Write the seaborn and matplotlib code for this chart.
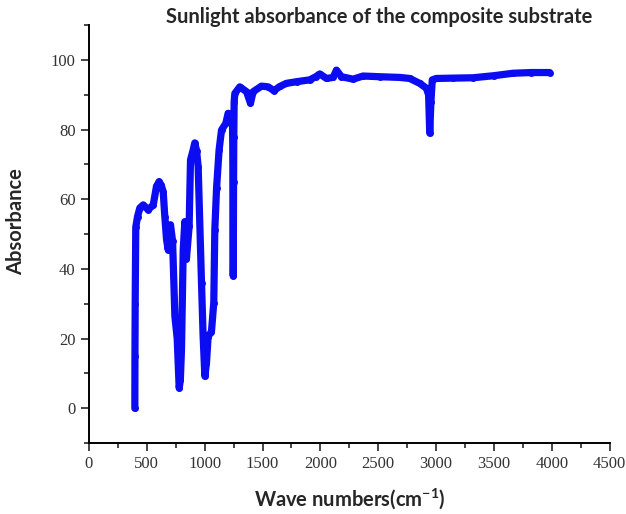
import numpy as np
import pandas as pd
import matplotlib.pyplot as plt
import seaborn as sns
from matplotlib.ticker import MultipleLocator

# wave numbers (cm-1) and absorbance
wave = [397, 398, 400, 405, 420, 440, 469, 512, 556, 584, 607, 625, 642, 656, 671, 685,
        705, 723, 743, 763, 780, 790, 800, 815, 829, 843, 866, 878, 901, 915, 930, 944,
        973, 987, 1002, 1016, 1030, 1059, 1079, 1088, 1103, 1125, 1146, 1183, 1203, 1224,
        1240, 1243, 1244, 1245, 1246, 1247, 1247, 1248, 1249, 1250, 1252, 1255, 1261,
        1304, 1362, 1396, 1419, 1491, 1549, 1598, 1650, 1707, 1800, 1908, 1960, 1995,
        2053, 2110, 2139, 2182, 2283, 2369, 2513, 2686, 2772, 2858, 2916, 2935, 2945,
        2955, 2967, 3002, 3150, 3319, 3500, 3665, 3820, 3981]
absorb = [0, 15, 30, 52, 55, 57.5, 58.4, 57, 58.4, 63.7, 65.1, 64, 62.2, 55, 48.4, 45.5,
          52.7, 48, 26.4, 20, 5.8, 8, 16.8, 45.5, 53.6, 43, 52.2, 71.3, 74.2, 76.2, 74,
          69.4, 36, 20.6, 9.2, 13, 20.6, 22, 30.3, 51.2, 63.2, 74.2, 79.9, 81.8, 84.7,
          84.3, 84, 76, 68, 60, 50, 42, 38, 45, 55, 65, 78, 88, 90.4, 92.3, 90.9, 87.6,
          90.9, 92.5, 92.3, 91.2, 92.4, 93.3, 93.8, 94.3, 95.2, 96, 94.7, 95, 97.1, 95.2,
          94.5, 95.4, 95.2, 95, 94.7, 93.3, 91.9, 90, 79, 88, 94.3, 94.7, 94.8, 94.9,
          95.5, 96.2, 96.4, 96.4]

df = pd.DataFrame({"wave": wave, "absorb": absorb})

sns.set_style("ticks")
plt.rcParams["font.family"] = ["Liberation Serif", "DejaVu Serif"]
plt.rcParams["mathtext.fontset"] = "custom"
plt.rcParams["mathtext.rm"] = "Lato:bold"
plt.rcParams["mathtext.default"] = "rm"

fig = plt.figure(figsize=(6.26, 5.14), dpi=100)
ax = fig.add_axes([0.142, 0.138, 0.832, 0.813])

sns.lineplot(data=df, x="wave", y="absorb", sort=False, estimator=None,
             color="#0c0cf2", linewidth=5.2, marker="o", markersize=5,
             markeredgewidth=0, ax=ax)

ax.set_xlim(0, 4500)
ax.set_ylim(-10, 110)
ax.xaxis.set_major_locator(MultipleLocator(500))
ax.xaxis.set_minor_locator(MultipleLocator(250))
ax.yaxis.set_major_locator(MultipleLocator(20))
ax.yaxis.set_minor_locator(MultipleLocator(10))
ax.set_yticks([0, 20, 40, 60, 80, 100])
ax.tick_params(which="major", direction="out", length=6, width=1.2,
               labelsize=12, labelcolor="#333333")
ax.tick_params(which="minor", direction="out", length=3.5, width=1.2)
for s in ["left", "bottom"]:
    ax.spines[s].set_linewidth(1.4)
    ax.spines[s].set_color("black")
sns.despine(ax=ax)

lab = dict(family=["Lato", "DejaVu Sans"], fontweight="bold", fontsize=14.5)
ax.set_xlabel("Wave numbers(cm$^{-1}$)", labelpad=10, **lab)
ax.set_ylabel("Absorbance", **lab)
ax.yaxis.set_label_coords(-0.12, 0.53)
fig.text(0.606, 0.967, "Sunlight absorbance of the composite substrate",
         ha="center", va="center", **lab)

fig.savefig("out.png", dpi=100)
